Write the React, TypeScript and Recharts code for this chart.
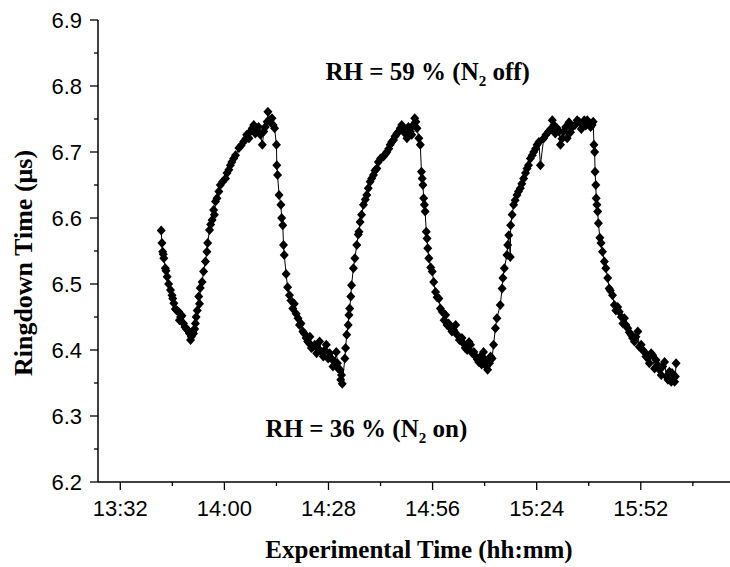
import { LineChart, Line, XAxis, YAxis, ReferenceDot } from 'recharts'

// minutes since midnight
const times = [
  823.0, 823.2, 823.4, 823.7, 824.1, 824.6, 825.5, 825.9, 826.4, 826.8,
  827.7, 828.2, 829.0, 829.8, 830.6, 831.1, 831.7, 832.2, 832.7, 833.1,
  833.5, 834.0, 834.4, 834.9, 835.3, 835.5, 836.0, 836.7, 837.1, 837.6,
  838.5, 838.9, 840.3, 841.2, 841.6, 843.0, 843.9, 845.2, 846.6, 847.5,
  848.8, 850.2, 850.6, 851.5, 851.7, 852.8, 853.5, 854.0, 854.1, 854.3,
  854.7, 855.2, 855.4, 855.7, 855.9, 856.1, 856.6, 857.0, 857.5, 857.9,
  858.4, 859.3, 859.8, 860.2, 861.1, 862.0, 862.9, 863.4, 864.3, 865.6,
  866.1, 867.4, 867.9, 868.8, 869.7, 870.1, 870.6, 871.5, 871.7, 872.4,
  872.6, 872.9, 873.3, 873.5, 873.7, 874.0, 874.2, 874.7, 875.1, 875.6,
  876.2, 876.5, 876.9, 877.4, 878.3, 878.7, 879.2, 880.1, 881.0, 881.4,
  882.8, 883.7, 884.6, 885.5, 886.4, 887.3, 888.2, 889.1, 890.0, 891.2,
  891.8, 892.3, 892.7, 893.0, 893.2, 893.4, 893.6, 893.8, 894.0, 894.3,
  894.5, 894.7, 895.0, 895.9, 896.3, 896.8, 897.7, 898.1, 899.5, 899.9,
  900.8, 902.2, 902.6, 903.9, 904.8, 906.2, 907.1, 908.4, 909.7, 910.8,
  912.0, 912.4, 912.9, 913.3, 914.2, 914.7, 914.9, 915.3, 916.0, 916.2,
  916.5, 916.9, 917.0, 917.4, 917.8, 918.7, 919.6, 920.5, 921.4, 922.3,
  923.2, 924.1, 925.0, 925.9, 927.2, 928.6, 929.5, 930.0, 930.4, 931.3,
  932.2, 933.6, 934.9, 936.3, 937.6, 938.5, 939.2, 939.4, 939.6, 939.7,
  939.9, 940.0, 940.2, 940.4, 940.6, 941.3, 941.7, 942.2, 942.6, 943.1,
  943.5, 944.4, 944.9, 946.2, 947.6, 948.5, 949.4, 950.3, 951.2, 952.1,
  953.0, 953.9, 955.2, 956.6, 957.5, 958.4, 959.7, 960.2, 960.6, 961.1,
  961.5,
]

// ringdown time, µs
const ringdown = [
  6.581, 6.562, 6.549, 6.539, 6.524, 6.511, 6.491, 6.483, 6.471, 6.462,
  6.458, 6.45, 6.44, 6.432, 6.425, 6.42, 6.425, 6.44, 6.46, 6.481,
  6.494, 6.503, 6.519, 6.534, 6.549, 6.562, 6.582, 6.597, 6.612, 6.625,
  6.64, 6.65, 6.66, 6.673, 6.68, 6.695, 6.706, 6.716, 6.721, 6.736,
  6.731, 6.711, 6.731, 6.746, 6.761, 6.751, 6.736, 6.711, 6.68, 6.665,
  6.635, 6.62, 6.6, 6.589, 6.559, 6.544, 6.515, 6.495, 6.483, 6.475,
  6.463, 6.455, 6.448, 6.438, 6.428, 6.418, 6.41, 6.403, 6.408, 6.413,
  6.397, 6.408, 6.387, 6.387, 6.382, 6.397, 6.372, 6.362, 6.349, 6.387,
  6.403, 6.423, 6.438, 6.453, 6.463, 6.481, 6.498, 6.524, 6.539, 6.559,
  6.579, 6.594, 6.605, 6.62, 6.635, 6.645, 6.655, 6.665, 6.675, 6.685,
  6.693, 6.7, 6.711, 6.718, 6.728, 6.736, 6.736, 6.721, 6.731, 6.751,
  6.736, 6.721, 6.711, 6.67, 6.66, 6.65, 6.63, 6.62, 6.61, 6.579,
  6.569, 6.554, 6.539, 6.519, 6.503, 6.488, 6.478, 6.463, 6.453, 6.438,
  6.433, 6.438, 6.423, 6.418, 6.403, 6.408, 6.397, 6.382, 6.397, 6.37,
  6.387, 6.408, 6.433, 6.448, 6.468, 6.493, 6.509, 6.524, 6.544, 6.559,
  6.574, 6.541, 6.589, 6.605, 6.62, 6.635, 6.645, 6.66, 6.675, 6.69,
  6.7, 6.711, 6.68, 6.721, 6.731, 6.741, 6.736, 6.731, 6.711, 6.731,
  6.721, 6.738, 6.748, 6.741, 6.748, 6.738, 6.746, 6.711, 6.7, 6.67,
  6.65, 6.63, 6.62, 6.61, 6.592, 6.562, 6.549, 6.534, 6.524, 6.509,
  6.493, 6.483, 6.468, 6.458, 6.448, 6.433, 6.423, 6.413, 6.428, 6.408,
  6.397, 6.387, 6.392, 6.377, 6.362, 6.382, 6.367, 6.352, 6.362, 6.352,
  6.38,
]

// scattered readings inside the thick parts of the trace
const extraTimes = [
  823.55, 824.3, 825.0, 826.1, 827.2, 827.9, 828.6, 829.4, 830.2, 830.9,
  831.4, 832.0, 832.4, 833.3, 836.3, 837.3, 838.0, 839.5, 840.7, 842.0,
  842.5, 844.5, 845.8, 846.0, 847.0, 847.9, 848.3, 849.2, 849.7, 851.0,
  852.2, 853.1, 858.8, 860.6, 861.5, 862.4, 863.0, 863.8, 864.8, 865.2,
  866.6, 867.0, 868.3, 869.2, 870.4, 871.1, 871.3, 876.0, 877.9, 879.6,
  880.5, 882.0, 883.3, 884.2, 885.0, 885.9, 886.9, 887.7, 888.6, 889.5,
  890.4, 890.8, 891.5, 895.5, 897.2, 898.6, 899.1, 900.3, 901.2, 901.7,
  903.2, 904.3, 905.3, 905.8, 906.7, 907.6, 908.0, 908.9, 909.2, 910.2,
  910.5, 911.3, 911.6, 918.2, 919.1, 920.0, 921.0, 921.8, 922.8, 923.7,
  924.6, 926.5, 927.8, 928.2, 929.0, 930.8, 931.8, 932.7, 933.1, 934.3,
  935.5, 936.0, 936.8, 937.2, 938.0, 938.9, 941.0, 943.8, 945.3, 945.8,
  946.8, 947.2, 948.0, 948.9, 949.8, 950.7, 951.6, 952.5, 953.4, 954.3,
  954.8, 955.7, 956.1, 957.0, 957.9, 958.9, 959.3, 960.4, 960.9, 961.3,
]

const extraRingdown = [
  6.545, 6.52, 6.5, 6.478, 6.46, 6.445, 6.452, 6.435, 6.43, 6.415,
  6.428, 6.432, 6.45, 6.47, 6.59, 6.605, 6.63, 6.655, 6.668, 6.685,
  6.69, 6.71, 6.72, 6.726, 6.731, 6.741, 6.728, 6.738, 6.726, 6.738,
  6.748, 6.741, 6.47, 6.44, 6.425, 6.413, 6.42, 6.405, 6.395, 6.402,
  6.39, 6.4, 6.395, 6.375, 6.38, 6.37, 6.355, 6.575, 6.628, 6.66,
  6.672, 6.69, 6.697, 6.705, 6.715, 6.724, 6.731, 6.741, 6.728, 6.738,
  6.726, 6.741, 6.746, 6.525, 6.48, 6.458, 6.445, 6.44, 6.428, 6.43,
  6.415, 6.41, 6.4, 6.412, 6.395, 6.39, 6.386, 6.39, 6.378, 6.385,
  6.375, 6.38, 6.39, 6.627, 6.64, 6.652, 6.668, 6.68, 6.695, 6.705,
  6.715, 6.726, 6.735, 6.748, 6.728, 6.72, 6.738, 6.745, 6.73, 6.741,
  6.745, 6.735, 6.748, 6.74, 6.745, 6.741, 6.57, 6.49, 6.46, 6.465,
  6.45, 6.44, 6.438, 6.427, 6.418, 6.42, 6.405, 6.4, 6.39, 6.38,
  6.395, 6.372, 6.385, 6.37, 6.375, 6.36, 6.355, 6.365, 6.358, 6.36,
]

const xMajor = [812, 840, 868, 896, 924, 952]
const xMinor = [826, 854, 882, 910, 938, 966]
const yMajor = [6.2, 6.3, 6.4, 6.5, 6.6, 6.7, 6.8, 6.9]
const yMinor = [6.25, 6.35, 6.45, 6.55, 6.65, 6.75, 6.85]

const data = [
  ...times.map((t, i) => ({ t, v: ringdown[i] })),
  ...extraTimes.map((t, i) => ({ t, v: extraRingdown[i] })),
].sort((a, b) => a.t - b.t)

const sans = '"Liberation Sans", Arial, sans-serif'
const serif = '"Liberation Serif", "Times New Roman", serif'

const hhmm = (m: number) => {
  const h = Math.floor(m / 60)
  const mm = Math.round(m - h * 60)
  return `${h}:${String(mm).padStart(2, '0')}`
}

const XTick = (props: any) => {
  const { x, y, payload } = props
  const major = xMajor.includes(payload.value)
  return (
    <g>
      <line x1={x} x2={x} y1={y} y2={y + (major ? 8 : 4)} stroke="#000" strokeWidth={1.3} />
      {major && (
        <text x={x} y={y + 34} textAnchor="middle" fontFamily={sans} fontSize={22} fill="#000">
          {hhmm(payload.value)}
        </text>
      )}
    </g>
  )
}

const YTick = (props: any) => {
  const { x, y, payload } = props
  const major = yMajor.some((v) => Math.abs(v - payload.value) < 1e-6)
  return (
    <g>
      <line x1={x} x2={x - (major ? 8 : 4)} y1={y} y2={y} stroke="#000" strokeWidth={1.3} />
      {major && (
        <text x={x - 16} y={y + 8} textAnchor="end" fontFamily={sans} fontSize={22} fill="#000">
          {payload.value.toFixed(1)}
        </text>
      )}
    </g>
  )
}

const Diamond = (props: any) => {
  const { cx, cy, index } = props
  if (cx == null || cy == null) return <g key={index} />
  return (
    <path
      key={index}
      d={`M${cx},${cy - 5}L${cx + 4.5},${cy}L${cx},${cy + 5}L${cx - 4.5},${cy}Z`}
      fill="#000"
    />
  )
}

const annotation = (main: string, tail: string) => (props: any) => {
  const { viewBox } = props
  const cx = viewBox.cx ?? viewBox.x
  const cy = viewBox.cy ?? viewBox.y
  return (
    <text x={cx} y={cy} textAnchor="middle" fontFamily={serif} fontWeight="bold" fontSize={25} fill="#000">
      {main}
      <tspan fontSize={15} dy={6}>2</tspan>
      <tspan dy={-6}>{tail}</tspan>
    </text>
  )
}

export default function App() {
  return (
    <div>
      <style>{'body{margin:0}'}</style>
      <LineChart width={730} height={567} data={data} margin={{ top: 20, right: 0, bottom: 0, left: 0 }}>
        <XAxis
          dataKey="t"
          type="number"
          domain={[806, 976]}
          ticks={[...xMajor, ...xMinor].sort((a, b) => a - b)}
          interval={0}
          tickSize={0}
          tickMargin={0}
          tickLine={false}
          tick={<XTick />}
          height={85}
          axisLine={{ stroke: '#000', strokeWidth: 1.5 }}
          label={{
            content: (p: any) => (
              <text
                x={p.viewBox.x + p.viewBox.width / 2 + 5}
                y={p.viewBox.y + 76}
                textAnchor="middle"
                fontFamily={serif}
                fontWeight="bold"
                fontSize={25}
                fill="#000"
              >
                Experimental Time (hh:mm)
              </text>
            ),
          }}
        />
        <YAxis
          type="number"
          domain={[6.2, 6.9]}
          ticks={[...yMajor, ...yMinor].sort((a, b) => a - b)}
          interval={0}
          tickSize={0}
          tickMargin={0}
          tickLine={false}
          tick={<YTick />}
          width={98}
          axisLine={{ stroke: '#000', strokeWidth: 1.5 }}
          label={{
            content: (p: any) => {
              const x = p.viewBox.x + 32
              const y = p.viewBox.y + p.viewBox.height / 2 + 12
              return (
                <text
                  x={x}
                  y={y}
                  transform={`rotate(-90, ${x}, ${y})`}
                  textAnchor="middle"
                  fontFamily={serif}
                  fontWeight="bold"
                  fontSize={26}
                  fill="#000"
                >
                  Ringdown Time (μs)
                </text>
              )
            },
          }}
        />
        <Line
          type="linear"
          dataKey="v"
          stroke="#000"
          strokeWidth={1}
          dot={Diamond}
          activeDot={false}
          isAnimationActive={false}
        />
        <ReferenceDot x={894.7} y={6.809} r={0} stroke="none" label={{ content: annotation('RH = 59 % (N', ' off)') }} />
        <ReferenceDot x={878.2} y={6.268} r={0} stroke="none" label={{ content: annotation('RH = 36 % (N', ' on)') }} />
      </LineChart>
    </div>
  )
}
